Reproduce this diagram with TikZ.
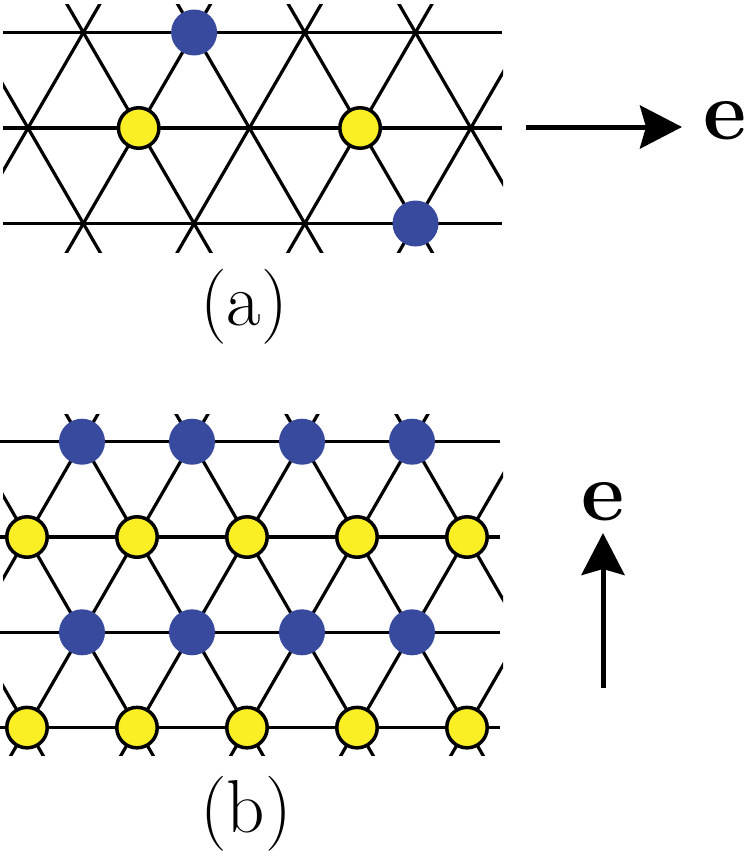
\documentclass[tikz,border=0pt]{standalone}
\usepackage{fontspec}
\usetikzlibrary{arrows.meta}
\definecolor{siteblue}{RGB}{56,74,158}
\definecolor{siteyellow}{RGB}{250,238,36}

\begin{document}
\begin{tikzpicture}[x=0.5pt,y=-0.5pt,
  bond/.style={line width=1.6pt},
  bluesite/.style={circle, fill=siteblue, minimum size=23pt, inner sep=0pt},
  yellowsite/.style={circle, draw=black, fill=siteyellow, line width=1.75pt, minimum size=20.25pt, inner sep=0pt},
  field/.style={line width=2.5pt, -{Stealth[length=21pt,width=21.5pt,inset=3pt]}},
  panellabel/.style={anchor=base, inner sep=0pt, font=\fontsize{37.5}{45}\selectfont},
  fieldlabel/.style={anchor=base, inner sep=0pt, font=\fontsize{42}{50}\selectfont\bfseries}]
\useasboundingbox (0,0) rectangle (747,851);

% panel (a): lattice
\begin{scope}
\clip (3,4) rectangle (503,252);
\draw[bond] (138.7,-63) -- (-82.7,319);
\draw[bond] (249.4,-63) -- (28,319);
\draw[bond] (360.1,-63) -- (138.7,319);
\draw[bond] (470.8,-63) -- (249.4,319);
\draw[bond] (581.5,-63) -- (360.1,319);
\draw[bond] (-82.7,-63) -- (138.7,319);
\draw[bond] (28,-63) -- (249.4,319);
\draw[bond] (138.7,-63) -- (360.1,319);
\draw[bond] (249.4,-63) -- (470.8,319);
\draw[bond] (360.1,-63) -- (581.5,319);
\end{scope}
\draw[bond] (3,32.5) -- (502,32.5);
\draw[bond] (3,128) -- (502,128);
\draw[bond] (3,223.5) -- (502,223.5);

\node[bluesite] (a-blue-1) at (194.1,32.5) {};
\node[bluesite] (a-blue-2) at (415.5,223.5) {};
\node[yellowsite] (a-yel-1) at (138.7,128) {};
\node[yellowsite] (a-yel-2) at (360.1,128) {};

\coordinate (a-tail) at (526,127);
\coordinate (a-tip) at (682,127);
\draw[field] (a-tail) -- (a-tip);
\node[fieldlabel] (a-e) at (725,139) {e};
\node[panellabel] (a-label) at (244,325) {(a)};

% panel (b): lattice
\begin{scope}
\clip (3,414) rectangle (503,755);
\draw[bond] (137,346.4) -- (-138,822.9);
\draw[bond] (247,346.4) -- (-28,822.9);
\draw[bond] (357,346.4) -- (82,822.9);
\draw[bond] (467,346.4) -- (192,822.9);
\draw[bond] (577,346.4) -- (302,822.9);
\draw[bond] (687,346.4) -- (412,822.9);
\draw[bond] (-193,346.4) -- (82,822.9);
\draw[bond] (-83,346.4) -- (192,822.9);
\draw[bond] (27,346.4) -- (302,822.9);
\draw[bond] (137,346.4) -- (412,822.9);
\draw[bond] (247,346.4) -- (522,822.9);
\draw[bond] (357,346.4) -- (632,822.9);
\end{scope}
\draw[bond] (0,441.7) -- (500,441.7);
\draw[bond] (0,537) -- (500,537);
\draw[bond] (0,632.3) -- (500,632.3);
\draw[bond] (0,727.6) -- (500,727.6);

\node[bluesite] (b-blue-11) at (82,441.7) {};
\node[bluesite] (b-blue-12) at (192,441.7) {};
\node[bluesite] (b-blue-13) at (302,441.7) {};
\node[bluesite] (b-blue-14) at (412,441.7) {};
\node[yellowsite] (b-yel-21) at (27,537) {};
\node[yellowsite] (b-yel-22) at (137,537) {};
\node[yellowsite] (b-yel-23) at (247,537) {};
\node[yellowsite] (b-yel-24) at (357,537) {};
\node[yellowsite] (b-yel-25) at (467,537) {};
\node[bluesite] (b-blue-31) at (82,632.3) {};
\node[bluesite] (b-blue-32) at (192,632.3) {};
\node[bluesite] (b-blue-33) at (302,632.3) {};
\node[bluesite] (b-blue-34) at (412,632.3) {};
\node[yellowsite] (b-yel-41) at (27,727.6) {};
\node[yellowsite] (b-yel-42) at (137,727.6) {};
\node[yellowsite] (b-yel-43) at (247,727.6) {};
\node[yellowsite] (b-yel-44) at (357,727.6) {};
\node[yellowsite] (b-yel-45) at (467,727.6) {};

\coordinate (b-tail) at (603,688);
\coordinate (b-tip) at (603,533);
\draw[field] (b-tail) -- (b-tip);
\node[fieldlabel] (b-e) at (603,520) {e};
\node[panellabel] (b-label) at (246,832) {(b)};
\end{tikzpicture}
\end{document}
